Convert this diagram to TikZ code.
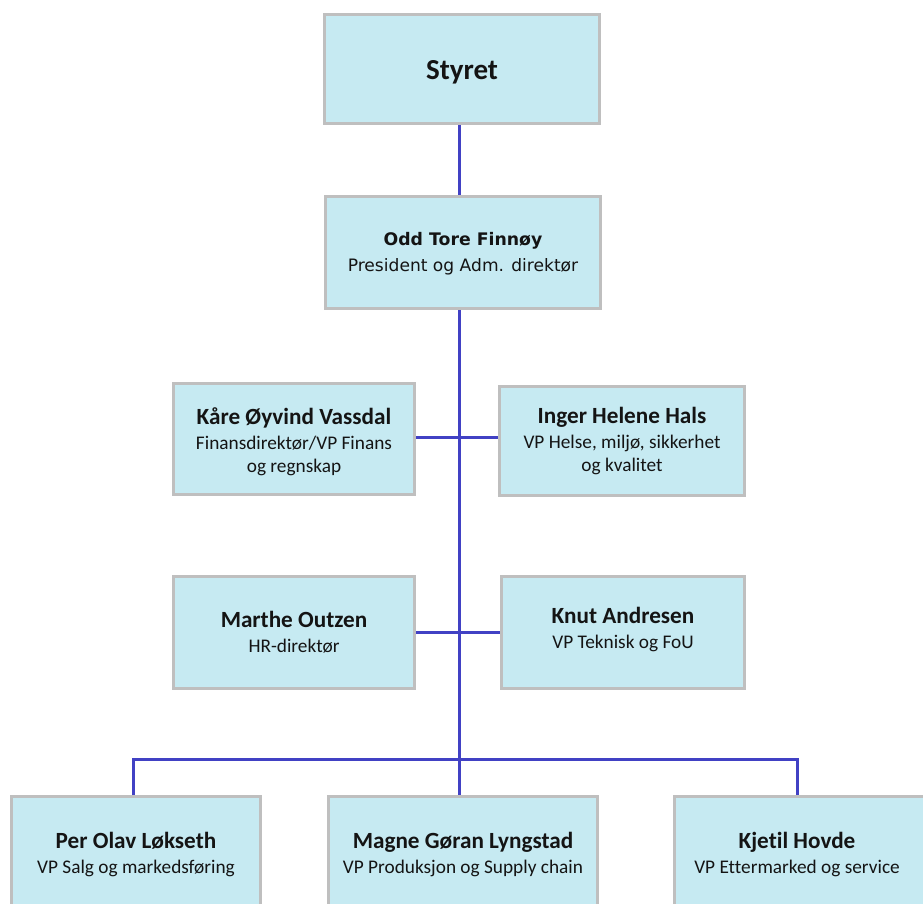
\documentclass[tikz,border=0pt]{standalone}
\usepackage{fontspec}
\setmainfont{Carlito}[Ligatures=NoCommon]
\newfontfamily\dejavu{DejaVu Sans}
\definecolor{boxfill}{HTML}{C6EAF2}
\definecolor{boxline}{HTML}{BFBFBF}
\definecolor{conn}{HTML}{4141C4}
\definecolor{txt}{HTML}{141414}
\tikzset{
  orgbox/.style={draw=boxline, line width=3pt, fill=boxfill, inner sep=0pt},
  orgtext/.style={align=center, inner sep=0pt, text=txt, font=\fontsize{19.3}{23}\selectfont},
  link/.style={draw=conn, line width=3pt}
}
\newcommand{\nm}[1]{{\fontsize{23.2}{23}\selectfont\bfseries #1}}
\begin{document}
\begin{tikzpicture}[x=1pt,y=-1pt]
\useasboundingbox (0,0) rectangle (923,903);
% boxes
\node[orgbox, minimum width=275pt, minimum height=109pt] (styret) at (462,69) {};
\node[orgbox, minimum width=275pt, minimum height=112pt] (odd) at (463,252.5) {};
\node[orgbox, minimum width=241pt, minimum height=111pt] (kare) at (294,439) {};
\node[orgbox, minimum width=245pt, minimum height=109pt] (inger) at (622,441) {};
\node[orgbox, minimum width=241pt, minimum height=112pt] (marthe) at (294,632.5) {};
\node[orgbox, minimum width=243pt, minimum height=112pt] (knut) at (623,632.5) {};
\node[orgbox, minimum width=249pt, minimum height=122pt] (per) at (136,857.5) {};
\node[orgbox, minimum width=269pt, minimum height=122pt] (magne) at (463,857.5) {};
\node[orgbox, minimum width=254pt, minimum height=122pt] (kjetil) at (801.5,857.5) {};
% texts
\node[orgtext, font=\fontsize{29}{30}\selectfont\bfseries] (styretT) at (462,72) {Styret};
\node[orgtext, font=\dejavu\fontsize{17.1}{26}\selectfont] (oddT) at (463,254) {{\bfseries\fontsize{17.3}{26}\selectfont Odd Tore Finnøy}\\President og Adm. direktør};
\node[orgtext] (kareT) at (294,442) {\nm{Kåre Øyvind Vassdal}\\[2pt]Finansdirektør/VP Finans\\og regnskap};
\node[orgtext] (ingerT) at (622,441) {\nm{Inger Helene Hals}\\[2pt]VP Helse, miljø, sikkerhet\\og kvalitet};
\node[orgtext] (martheT) at (294,632) {\nm{Marthe Outzen}\\[2pt]HR-direktør};
\node[orgtext] (knutT) at (623,630) {\nm{Knut Andresen}\\[2pt]VP Teknisk og FoU};
\node[orgtext] (perT) at (136,855) {\nm{Per Olav Løkseth}\\[2pt]VP Salg og markedsføring};
\node[orgtext] (magneT) at (463,855) {\nm{Magne Gøran Lyngstad}\\[2pt]VP Produksjon og Supply chain};
\node[orgtext] (kjetilT) at (797,855) {\nm{Kjetil Hovde}\\[2pt]VP Ettermarked og service};
% connectors
\coordinate (spine) at (459,0);
\coordinate (bar) at (459,759);
\draw[link] (styret.south -| spine) -- (odd.north -| spine);
\draw[link] (odd.south -| spine) -- (magne.north -| spine);
\draw[link] (kare.east |- 0,437) -- (inger.west |- 0,437);
\draw[link] (marthe.east) -- (knut.west);
\draw[link] ([xshift=-3pt]per.north) |- (bar) -| ([xshift=-4.5pt]kjetil.north);
\end{tikzpicture}
\end{document}
